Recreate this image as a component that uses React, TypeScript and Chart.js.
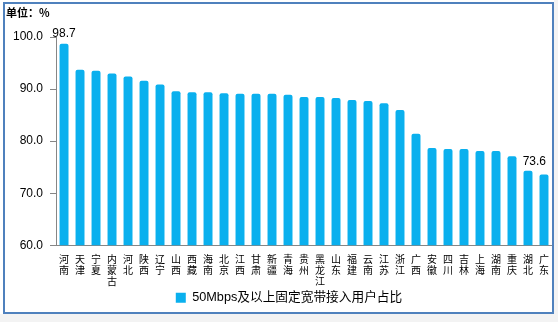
import React, { useEffect, useRef } from 'react';
import { Chart, registerables } from 'chart.js';

Chart.register(...registerables);

const provinces = [
  '河南', '天津', '宁夏', '内蒙古', '河北', '陕西', '辽宁', '山西', '西藏', '海南',
  '北京', '江西', '甘肃', '新疆', '青海', '贵州', '黑龙江', '山东', '福建', '云南',
  '江苏', '浙江', '广西', '安徽', '四川', '吉林', '上海', '湖南', '重庆', '湖北', '广东',
];
const shares = [
  98.7, 93.7, 93.5, 93.0, 92.4, 91.6, 90.9, 89.6, 89.4, 89.4,
  89.2, 89.1, 89.1, 89.1, 88.9, 88.5, 88.5, 88.3, 87.9, 87.7,
  87.3, 86.0, 81.4, 78.7, 78.5, 78.5, 78.1, 78.1, 77.1, 74.3, 73.6,
];
const seriesName = '50Mbps及以上固定宽带接入用户占比';
const unitLabel = '单位：%';
const yMin = 60;
const yMax = 100;
const yStep = 10;
const labeledIndices = [0, 30];

const BAR_COLOR = '#0AB0EE';
const AXIS_COLOR = '#868686';
const LATIN = '"Liberation Sans", Arial, "Noto Sans CJK SC", sans-serif';
const CJK = '"Noto Sans CJK SC", "Liberation Sans", sans-serif';

const valueLabelPlugin = {
  id: 'valueLabels',
  afterDatasetsDraw(chart: any) {
    const ctx = chart.ctx;
    const meta = chart.getDatasetMeta(0);
    ctx.save();
    ctx.font = `12px ${LATIN}`;
    ctx.fillStyle = '#000';
    ctx.textBaseline = 'bottom';
    ctx.textAlign = 'center';
    labeledIndices.forEach((i) => {
      const el = meta.data[i];
      if (!el) return;
      const text = shares[i].toFixed(1);
      const w = ctx.measureText(text).width;
      let x = el.x;
      const maxX = chart.width - 12 - w / 2;
      let gap = 4;
      if (x > maxX) {
        x = maxX;
        gap = 7;
      }
      ctx.fillText(text, x, el.y - gap);
    });
    ctx.restore();
  },
};

const legendShiftPlugin = {
  id: 'legendShift',
  afterLayout(chart: any) {
    if (chart.legend) {
      chart.legend.left += 10;
      chart.legend.right += 10;
    }
  },
};

export default function App() {
  const ref = useRef<HTMLCanvasElement | null>(null);

  useEffect(() => {
    if (!ref.current) return;
    const chart = new Chart(ref.current, {
      type: 'bar',
      data: {
        labels: provinces.map((p) => p.split('')),
        datasets: [
          {
            label: seriesName,
            data: shares,
            backgroundColor: BAR_COLOR,
            borderRadius: { topLeft: 2, topRight: 2 },
            borderSkipped: 'bottom',
            barPercentage: 0.56,
            categoryPercentage: 1,
          },
        ],
      },
      options: {
        responsive: false,
        animation: false,
        devicePixelRatio: 1,
        layout: { padding: { left: 6, right: 6, top: 37, bottom: 8 } },
        scales: {
          x: {
            grid: { display: false },
            border: { display: true, color: AXIS_COLOR, width: 1 },
            ticks: {
              color: '#000',
              font: { family: CJK, size: 10, lineHeight: 1.12 },
              padding: 0,
              maxRotation: 0,
              autoSkip: false,
            },
            afterFit: (axis: any) => {
              axis.height = 44;
            },
          },
          y: {
            min: yMin,
            max: yMax,
            grid: {
              display: true,
              drawOnChartArea: false,
              drawTicks: true,
              tickLength: 6,
              color: AXIS_COLOR,
            },
            border: { display: true, color: AXIS_COLOR, width: 1 },
            ticks: {
              stepSize: yStep,
              color: '#000',
              font: { family: LATIN, size: 12 },
              padding: 7,
              callback: (v: any) => Number(v).toFixed(1),
            },
          },
        },
        plugins: {
          legend: {
            position: 'bottom',
            labels: {
              boxWidth: 10,
              boxHeight: 10,
              color: '#000',
              font: { family: LATIN, size: 12.7 },
              padding: 2,
            },
          },
          tooltip: { enabled: false },
        },
      },
      plugins: [valueLabelPlugin, legendShiftPlugin],
    });
    return () => chart.destroy();
  }, []);

  return (
    <div
      style={{
        position: 'fixed',
        left: 0,
        top: 0,
        width: 558,
        height: 322,
        background: '#f3f3f3',
        overflow: 'hidden',
      }}
    >
      <div
        style={{
          position: 'absolute',
          left: 0,
          top: 0,
          width: 554,
          height: 314,
          background: '#fff',
        }}
      />
      <canvas
        ref={ref}
        width={558}
        height={322}
        style={{ position: 'absolute', left: 0, top: 0, width: 558, height: 322 }}
      />
      <div
        style={{
          position: 'absolute',
          left: 3,
          top: 2,
          width: 551,
          height: 312,
          border: '2px solid #4F81BD',
          boxSizing: 'border-box',
          pointerEvents: 'none',
        }}
      />
      <div
        style={{
          position: 'absolute',
          left: 6,
          top: 5,
          fontFamily: CJK,
          fontWeight: 'bold',
          fontSize: 11,
          color: '#000',
          lineHeight: '15px',
        }}
      >
        {unitLabel}
      </div>
    </div>
  );
}
